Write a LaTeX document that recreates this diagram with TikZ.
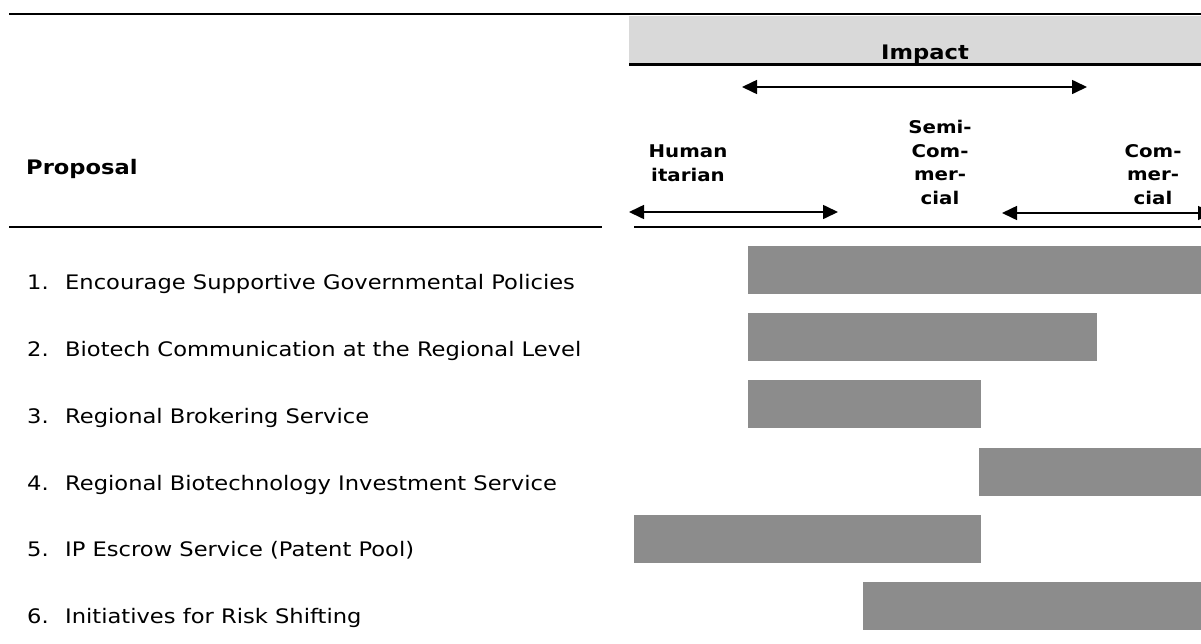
\documentclass[tikz,border=0pt]{standalone}
\usepackage{fontspec}
\setmainfont{DejaVu Sans}[FakeStretch=1.13]
\usetikzlibrary{arrows.meta}
\definecolor{bargray}{HTML}{8C8C8C}
\definecolor{headgray}{HTML}{D9D9D9}
\begin{document}
\begin{tikzpicture}[x=1pt,y=-1pt,
  rule/.style={line width=2.6pt},
  dbl/.style={line width=1.6pt,{Triangle[length=15pt,width=14pt]}-{Triangle[length=15pt,width=14pt]}},
  bar/.style={fill=bargray,draw=none},
  item/.style={anchor=base west,inner sep=0pt,font=\fontsize{20}{24}\selectfont},
  head/.style={inner sep=0pt,font=\bfseries\fontsize{20}{23.7}\selectfont,align=center},
  colhead/.style={inner sep=0pt,font=\bfseries\fontsize{17.5}{23.7}\selectfont,align=center}]
\useasboundingbox (0,0) rectangle (1201,643);
% rules and header
\draw[rule] (9,14) -- (1201,14);
\fill[headgray] (629,16) rectangle (1201,63);
\draw[rule] (629,64.5) -- (1201,64.5);
\draw[rule] (9,227) -- (602,227);
\draw[rule] (634,227) -- (1201,227);
\node[head,anchor=base] (impact) at (925,59) {Impact};
\node[head,anchor=base west] (proposal) at (26,174) {Proposal};
% column headings
\node[colhead] (human) at (688,163) {Human\\itarian};
\node[colhead] (semi) at (940,162.5) {Semi-\\Com-\\mer-\\cial};
\node[colhead] (comm) at (1153,174.5) {Com-\\mer-\\cial};
% arrows
\coordinate (tL) at (742,87);
\coordinate (tR) at (1087,87);
\coordinate (hL) at (629,212);
\coordinate (hR) at (838,212);
\coordinate (cL) at (1002,213);
\coordinate (cR) at (1213,213);
\draw[dbl] (tL) -- (tR);
\draw[dbl] (hL) -- (hR);
\draw[dbl] (cL) -- (cR);
% rows
\foreach \n/\t/\yb in {1/Encourage Supportive Governmental Policies/289,
  2/Biotech Communication at the Regional Level/356,
  3/Regional Brokering Service/423,
  4/Regional Biotechnology Investment Service/490,
  5/IP Escrow Service (Patent Pool)/556,
  6/Initiatives for Risk Shifting/623}{
  \node[item] (num\n) at (27,\yb) {\n.};
  \node[item] (lab\n) at (65,\yb) {\t};
}
% bars
\path[bar] (748,246) rectangle (1201,294);
\path[bar] (748,313) rectangle (1097,361);
\path[bar] (748,380) rectangle (981,428);
\path[bar] (979,448) rectangle (1201,496);
\path[bar] (634,515) rectangle (981,563);
\path[bar] (863,582) rectangle (1201,630);
\end{tikzpicture}
\end{document}
